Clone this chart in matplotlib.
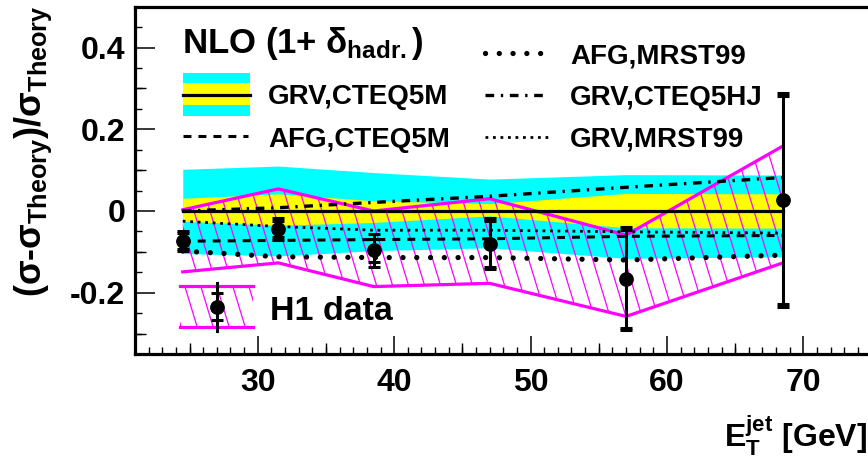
import numpy as np
import matplotlib
matplotlib.use("Agg")
import matplotlib.pyplot as plt
from matplotlib.patches import Polygon, Rectangle
from matplotlib.collections import LineCollection
from matplotlib.ticker import MultipleLocator, FixedLocator, FuncFormatter

plt.rcParams.update({
    "font.family": ["Liberation Sans", "DejaVu Sans"],
    "font.weight": "bold",
    "mathtext.fontset": "custom",
    "mathtext.rm": "Liberation Sans:bold",
    "mathtext.it": "Liberation Sans:bold",
    "mathtext.bf": "Liberation Sans:bold",
    "mathtext.sf": "Liberation Sans:bold",
    "axes.unicode_minus": False,
})

# ---- data -------------------------------------------------------------
et_jet = [24.5, 31.5, 38.5, 47.0, 57.0, 68.5]

h1_ratio = [-0.073, -0.044, -0.096, -0.080, -0.166, 0.027]
h1_err_tot = [0.024, 0.027, 0.040, 0.062, 0.126, 0.262]
h1_err_stat = [0.019, 0.020, 0.028, 0.056, 0.120, 0.255]
h1_syst_hi = [0.003, 0.054, 0.000, 0.030, -0.059, 0.159]
h1_syst_lo = [-0.149, -0.127, -0.185, -0.177, -0.258, -0.127]

# GRV,CTEQ5M reference with its uncertainty bands
band_outer_hi = [0.102, 0.110, 0.094, 0.078, 0.089, 0.088]
band_outer_lo = [-0.104, -0.110, -0.097, -0.090, -0.116, -0.112]
band_inner_hi = [0.031, 0.042, 0.025, 0.018, 0.043, 0.042]
band_inner_lo = [-0.025, -0.035, -0.028, -0.012, -0.041, -0.042]
grv_cteq5m = [0.0, 0.0, 0.0, 0.0, 0.0, 0.0]

afg_cteq5m = [-0.074, -0.072, -0.070, -0.068, -0.062, -0.060]
afg_mrst99 = [-0.098, -0.112, -0.114, -0.114, -0.120, -0.108]
grv_cteq5hj = [0.000, 0.008, 0.021, 0.036, 0.058, 0.082]
grv_mrst99 = [-0.025, -0.038, -0.047, -0.047, -0.051, -0.054]

x_ticks = [30, 40, 50, 60, 70]
y_ticks = [-0.2, 0.0, 0.2, 0.4]

# ---- figure / axes ----------------------------------------------------
FW, FH = 868, 459
X_MIN, X_MAX = 21, 75
AX_L, AX_T, AX_B = 135.0, 6.7, 354.0
AX_R = AX_L + (X_MAX - X_MIN) * 13.64
fig = plt.figure(figsize=(FW / 100, FH / 100), dpi=100)
ax = fig.add_axes([AX_L / FW, 1 - AX_B / FH, (AX_R - AX_L) / FW, (AX_B - AX_T) / FH])
ax.set_xlim(X_MIN, X_MAX)
ax.set_ylim(-0.35, 0.5)

CYAN = "#00ffff"
YELLOW = "#ffff00"
MAG = "#ff00ff"

x = np.array(et_jet)

# theory uncertainty bands
ax.fill_between(x, band_outer_lo, band_outer_hi, color=CYAN, lw=0, zorder=1)
ax.fill_between(x, band_inner_lo, band_inner_hi, color=YELLOW, lw=0, zorder=2)


def steep_hatch(clip_patch, spacing_px=16.0, slope=3.3, lw=0.9, zorder=3):
    """Steep '\\' hatching drawn in axes fraction and clipped to a patch."""
    w = AX_R - AX_L
    h = AX_B - AX_T
    dx = spacing_px / w
    shift = h / (slope * w)  # horizontal run (axes frac) over full height
    segs = [[(x0, 1.0), (x0 + shift, 0.0)]
            for x0 in np.arange(-shift - 0.1, 1.1, dx)]
    lc = LineCollection(segs, colors=MAG, linewidths=lw, transform=ax.transAxes,
                        zorder=zorder)
    ax.add_collection(lc)
    lc.set_clip_path(clip_patch)
    return lc


# H1 correlated uncertainty: hatched region with magenta outline
poly_pts = np.column_stack([np.concatenate([x, x[::-1]]),
                            np.concatenate([h1_syst_hi, np.array(h1_syst_lo)[::-1]])])
syst_patch = Polygon(poly_pts, closed=True, facecolor="none", edgecolor="none",
                     transform=ax.transData)
ax.add_patch(syst_patch)
steep_hatch(syst_patch)
ax.plot(x, h1_syst_hi, color=MAG, lw=2.3, zorder=4, solid_joinstyle="miter")
ax.plot(x, h1_syst_lo, color=MAG, lw=2.3, zorder=4, solid_joinstyle="miter")

# theory curves
style_dashed = dict(color="black", lw=2.2, linestyle=(0, (2.6, 2.3)))
style_bigdots = dict(color="black", lw=3.8, linestyle=(0, (0.01, 2.6)),
                     dash_capstyle="round")
style_dashdot = dict(color="black", lw=2.4, linestyle=(0, (2.6, 2.0, 0.7, 2.0)))
style_smalldots = dict(color="black", lw=2.0, linestyle=(0, (1.0, 1.7)))

ax.plot(x, afg_cteq5m, zorder=5, **style_dashed)
ax.plot(x, afg_mrst99, zorder=5, **style_bigdots)
ax.plot(x, grv_cteq5hj, zorder=5, **style_dashdot)
ax.plot(x, grv_mrst99, zorder=5, **style_smalldots)
ax.plot(x, grv_cteq5m, color="black", lw=2.3, zorder=6)

# H1 data points: total errors with caps, statistical errors as ticks
ax.errorbar(x, h1_ratio, yerr=h1_err_tot, fmt="o", color="black", ms=9.6,
            elinewidth=2.2, capsize=4.0, capthick=2.2, zorder=8)
y_arr = np.array(h1_ratio)
st = np.array(h1_err_stat)
ax.plot(x, y_arr + st, "_", color="black", ms=8.0, mew=2.2, zorder=8)
ax.plot(x, y_arr - st, "_", color="black", ms=8.0, mew=2.2, zorder=8)

# ---- axes styling -----------------------------------------------------
for side in ("left", "bottom", "top", "right"):
    ax.spines[side].set_linewidth(2.3)

ax.xaxis.set_major_locator(FixedLocator(x_ticks))
ax.xaxis.set_minor_locator(MultipleLocator(1))
ax.yaxis.set_major_locator(FixedLocator(y_ticks))
ax.yaxis.set_minor_locator(MultipleLocator(0.05))
ax.yaxis.set_major_formatter(FuncFormatter(lambda v, p: "%g" % round(v, 3)))
ax.xaxis.set_major_formatter(FuncFormatter(lambda v, p: "%d" % v))

ax.tick_params(axis="x", which="major", direction="in", length=13, width=1.1,
               labelsize=23, pad=10, top=False)
ax.tick_params(axis="y", which="major", direction="in", length=14.5, width=1.1,
               labelsize=23, pad=7, right=False)
ax.tick_params(which="minor", direction="in", length=5, width=1.0, top=False,
               right=False)

# intermediate tick level (every 5 GeV / every 0.1)
secx = ax.secondary_xaxis("bottom")
secx.set_xticks([25, 35, 45, 55, 65])
secx.tick_params(direction="in", length=8, width=1.0, labelbottom=False)
secx.spines["bottom"].set_visible(False)
secy = ax.secondary_yaxis("left")
secy.set_yticks([-0.3, -0.1, 0.1, 0.3])
secy.tick_params(direction="in", length=8, width=1.0, labelleft=False)
secy.spines["left"].set_visible(False)

# axis titles
fig.text(33 / FW, 1 - 5 / FH,
         r"($\sigma$-$\sigma_{\rm Theory}$)/$\sigma_{\rm Theory}$",
         rotation=90, ha="center", va="top", fontsize=26)
fig.text(867 / FW, 1 - 447 / FH, r"$\rm E_{T}^{jet}$ [GeV]",
         ha="right", va="baseline", fontsize=23)

# ---- legend -----------------------------------------------------------
T = ax.transAxes
W_PX = AX_R - AX_L
H_PX = AX_B - AX_T


def ax_x(px):
    return (px - AX_L) / W_PX


def ax_y(py):
    return (AX_B - py) / H_PX


ax.text(ax_x(181.7), ax_y(52.7), r"NLO (1+ $\delta_{\rm hadr.}$)", transform=T,
        fontsize=25, ha="left", va="baseline", zorder=10)

ax.add_patch(Rectangle((ax_x(183.3), ax_y(116)), ax_x(250) - ax_x(183.3),
                       ax_y(72.7) - ax_y(116), transform=T,
                       facecolor=CYAN, edgecolor="none", zorder=10))
ax.add_patch(Rectangle((ax_x(183.3), ax_y(105)), ax_x(250) - ax_x(183.3),
                       ax_y(83.3) - ax_y(105), transform=T,
                       facecolor=YELLOW, edgecolor="none", zorder=10))
ax.plot([ax_x(183.3), ax_x(250)], [ax_y(94.7)] * 2, transform=T, color="black",
        lw=2.3, zorder=11)
ax.text(ax_x(268), ax_y(104), "GRV,CTEQ5M", transform=T, fontsize=20,
        va="baseline", zorder=10)

ax.plot([ax_x(183.3), ax_x(248)], [ax_y(136)] * 2, transform=T, zorder=11,
        **style_dashed)
ax.text(ax_x(268), ax_y(146.7), "AFG,CTEQ5M", transform=T, fontsize=20,
        va="baseline", zorder=10)

ax.plot([ax_x(485), ax_x(547)], [ax_y(52.7)] * 2, transform=T, zorder=11,
        **style_bigdots)
ax.text(ax_x(570), ax_y(63.3), "AFG,MRST99", transform=T, fontsize=20,
        va="baseline", zorder=10)
ax.plot([ax_x(485), ax_x(547)], [ax_y(95)] * 2, transform=T, zorder=11,
        **style_dashdot)
ax.text(ax_x(570), ax_y(105), "GRV,CTEQ5HJ", transform=T, fontsize=20,
        va="baseline", zorder=10)
ax.plot([ax_x(485), ax_x(552)], [ax_y(136.7)] * 2, transform=T, zorder=11,
        **style_smalldots)
ax.text(ax_x(570), ax_y(146.7), "GRV,MRST99", transform=T, fontsize=20,
        va="baseline", zorder=10)

# H1 data legend entry
h1_box = Rectangle((ax_x(180), ax_y(327)), ax_x(253) - ax_x(180),
                   ax_y(285.7) - ax_y(327), transform=T,
                   facecolor="none", edgecolor="none")
ax.add_patch(h1_box)
steep_hatch(h1_box, zorder=10)
for py in (285.7, 327):
    ax.plot([ax_x(180), ax_x(253)], [ax_y(py)] * 2, transform=T, color=MAG,
            lw=2.3, zorder=11)
mx = ax_x(216.7)
ax.plot([mx, mx], [ax_y(330.7), ax_y(282.7)], transform=T, color="black",
        lw=2.2, zorder=12)
ax.plot([mx, mx], [ax_y(292.7), ax_y(320)], "_", transform=T, color="black",
        ms=8.0, mew=2.2, zorder=12)
ax.plot([mx], [ax_y(306.7)], "o", transform=T, color="black", ms=9.6, zorder=12)
ax.text(ax_x(270), ax_y(320), "H1 data", transform=T, fontsize=24.5,
        va="baseline", zorder=10)

fig.savefig("out.png", dpi=100)
